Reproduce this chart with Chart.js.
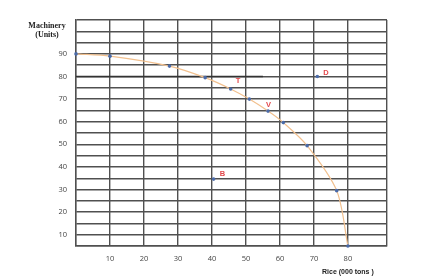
<!DOCTYPE html>
<html>
<head>
<meta charset="utf-8">
<script src="https://cdn.jsdelivr.net/npm/chart.js@4/dist/chart.umd.min.js"></script>
<style>
    html, body { margin: 0; padding: 0; background: #fff; }
    #wrap { width: 430px; height: 279px; }
</style>
</head>
<body>
<div id="wrap"><canvas id="ppf"></canvas></div>
<script>
// production possibility curve
var curveRice = [0, 10, 27.5, 38, 45.5, 51, 56.5, 61, 68, 76.7, 80];
var curveMachinery = [90, 89, 84.6, 79.5, 74.5, 70, 64.7, 59.6, 49.4, 29.5, 5];
var markLetters = ['T', 'V', 'D', 'B'];
var markRice = [45.5, 56.5, 71, 40.5];
var markMachinery = [74.5, 64.7, 80, 34.6];
var xTickValues = [0, 10, 20, 30, 40, 50, 60, 70, 80, 91.5];
var xTickLabels = ['10', '20', '30', '40', '50', '60', '70', '80'];
var yTickLabels = ['10', '20', '30', '40', '50', '60', '70', '80', '90'];

var curvePoints = curveRice.map(function (r, i) { return { x: r, y: curveMachinery[i] }; });
// D and B are off the curve
var extraPoints = [{ x: markRice[2], y: markMachinery[2] }, { x: markRice[3], y: markMachinery[3] }];

var gridColor = '#505050';

var letterPlugin = {
    id: 'letters',
    afterDatasetsDraw: function (chart) {
        var ctx = chart.ctx;
        var xs = chart.scales.x, ys = chart.scales.y;
        var area = chart.chartArea;
        ctx.save();
        ctx.fillStyle = '#e2474a';
        ctx.font = 'bold 7.5px "Liberation Sans", Arial, sans-serif';
        ctx.textAlign = 'left';
        ctx.textBaseline = 'middle';
        var offs = [[5, -8], [-2, -6], [6, -4], [6, -5]];
        for (var i = 0; i < markLetters.length; i++) {
            var px = xs.getPixelForValue(markRice[i]);
            var py = ys.getPixelForValue(markMachinery[i]);
            ctx.fillText(markLetters[i], px + offs[i][0], py + offs[i][1]);
        }
        // axis titles
        ctx.fillStyle = '#222';
        ctx.font = 'bold 8px "Liberation Serif", "Times New Roman", serif';
        ctx.textAlign = 'center';
        ctx.fillText('Machinery', area.left - 29, 26);
        ctx.fillText('(Units)', area.left - 29, 35);
        ctx.font = 'bold 7px "Liberation Sans", Arial, sans-serif';
        ctx.fillText('Rice (000 tons )', xs.getPixelForValue(80), 272);
        ctx.restore();
    }
};

new Chart(document.getElementById('ppf'), {
    type: 'scatter',
    data: {
        datasets: [{
            label: 'curve',
            data: curvePoints,
            showLine: true,
            borderColor: '#f2c08e',
            borderWidth: 1.2,
            tension: 0.3,
            pointRadius: 1.8,
            pointBackgroundColor: '#4a6aa8',
            pointBorderColor: '#4a6aa8',
            pointBorderWidth: 0
        }, {
            label: 'marks',
            data: extraPoints,
            pointRadius: 1.8,
            pointBackgroundColor: '#4a6aa8',
            pointBorderColor: '#4a6aa8',
            pointBorderWidth: 0
        }, {
            label: 'eighty',
            data: [{ x: 0, y: 80 }, { x: 55, y: 80 }],
            showLine: true,
            borderColor: '#333',
            borderWidth: 1.6,
            pointRadius: 0
        }]
    },
    options: {
        responsive: true,
        maintainAspectRatio: false,
        animation: false,
        clip: false,
        layout: { padding: { left: 0, right: 43, top: 20, bottom: 0 } },
        plugins: { legend: { display: false }, tooltip: { enabled: false } },
        scales: {
            x: {
                type: 'linear',
                min: 0,
                max: 91.5,
                afterBuildTicks: function (scale) {
                    scale.ticks = xTickValues.map(function (v) { return { value: v }; });
                },
                afterFit: function (scale) { scale.height = 33; },
                grid: { color: gridColor, lineWidth: 1.4, drawTicks: false },
                border: { color: gridColor, width: 1.4 },
                ticks: {
                    padding: 8,
                    maxRotation: 0,
                    autoSkip: false,
                    color: '#444',
                    font: { family: '"Open Sans", sans-serif', size: 7.5 },
                    callback: function (v) {
                        return xTickLabels.indexOf(String(v)) >= 0 ? String(v) : '';
                    }
                }
            },
            y: {
                type: 'linear',
                min: 5,
                max: 105,
                afterBuildTicks: function (scale) {
                    var t = [];
                    for (var v = 5; v <= 105; v += 5) t.push({ value: v });
                    scale.ticks = t;
                },
                afterFit: function (scale) { scale.width = 76; },
                grid: { color: gridColor, lineWidth: 1.4, drawTicks: false },
                border: { color: gridColor, width: 1.4 },
                ticks: {
                    padding: 9,
                    autoSkip: false,
                    color: '#444',
                    font: { family: '"Open Sans", sans-serif', size: 7.5 },
                    callback: function (v) {
                        return yTickLabels.indexOf(String(v)) >= 0 ? String(v) : '';
                    }
                }
            }
        }
    },
    plugins: [letterPlugin]
});
</script>
</body>
</html>
